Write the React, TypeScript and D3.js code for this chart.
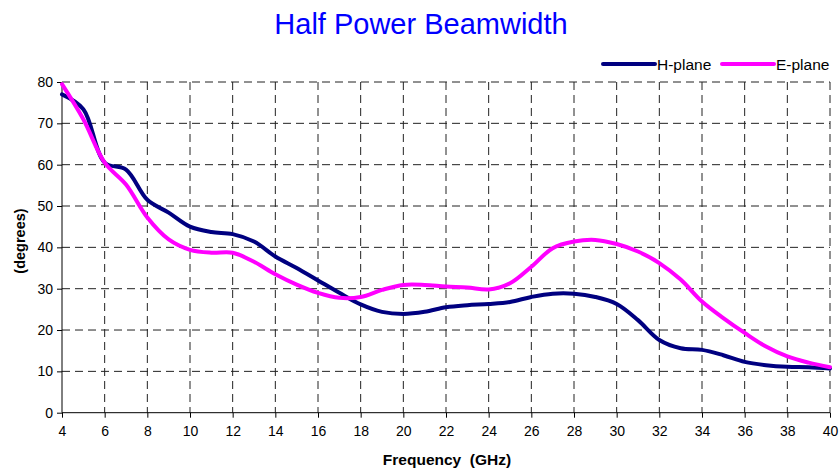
import { useRef, useEffect } from "react";
import * as d3 from "d3";

const WIDTH = 840;
const HEIGHT = 468;
const MARGIN = { top: 82, right: 10, bottom: 55, left: 62 };
const INNER_W = 830 - MARGIN.left;
const INNER_H = 412.7 - MARGIN.top;

const freqs = [4, 5, 6, 7, 8, 9, 10, 11, 12, 13, 14, 15, 16, 17, 18, 19, 20, 21, 22, 23, 24, 25, 26, 27, 28, 29, 30, 31, 32, 33, 34, 35, 36, 37, 38, 39, 40];
const hPlane = [77, 73.4, 60.5, 58.8, 51.5, 48.4, 45, 43.7, 43.2, 41.4, 37.8, 35, 32, 29, 26.2, 24.4, 23.9, 24.4, 25.5, 26, 26.3, 26.8, 28, 28.8, 28.8, 28, 26.3, 22.4, 17.6, 15.6, 15.2, 13.9, 12.3, 11.5, 11.1, 11, 10.7];
const ePlane = [79.5, 71, 60.5, 55.2, 47.2, 41.9, 39.4, 38.7, 38.7, 36.5, 33.5, 31, 29, 27.8, 28, 29.7, 30.9, 30.9, 30.5, 30.3, 29.8, 31.3, 35.3, 39.8, 41.4, 41.8, 40.8, 39, 36.2, 32.2, 26.9, 22.9, 19.3, 16, 13.6, 12.1, 11];
const xTicks = d3.range(4, 41, 2);
const yTicks = [0, 10, 20, 30, 40, 50, 60, 70, 80];
const series = [
  { name: "H-plane", values: hPlane, color: "#000080" },
  { name: "E-plane", values: ePlane, color: "#FF00FF" },
];

const FONT = "'Liberation Sans', Arial, sans-serif";

export default function App() {
  const svgRef = useRef<SVGSVGElement>(null);

  useEffect(() => {
    const svg = d3.select(svgRef.current);
    svg.selectAll("*").remove();

    const x = d3.scaleLinear().domain([4, 40]).range([0, INNER_W]);
    const y = d3.scaleLinear().domain([0, 80]).range([INNER_H, 0]);

    const g = svg.append("g").attr("transform", `translate(${MARGIN.left},${MARGIN.top})`);

    // Grid lines
    g.append("g")
      .selectAll("line")
      .data(yTicks.filter((t) => t > 0))
      .join("line")
      .attr("x1", 0)
      .attr("x2", INNER_W)
      .attr("y1", (d) => y(d))
      .attr("y2", (d) => y(d))
      .attr("stroke", "#222")
      .attr("stroke-dasharray", "8,5");

    g.append("g")
      .selectAll("line")
      .data(xTicks.filter((t) => t > 4))
      .join("line")
      .attr("x1", (d) => x(d))
      .attr("x2", (d) => x(d))
      .attr("y1", 0)
      .attr("y2", INNER_H)
      .attr("stroke", "#222")
      .attr("stroke-dasharray", "8,5");

    // Axes
    g.append("g")
      .attr("transform", `translate(0,${INNER_H})`)
      .call(d3.axisBottom(x).tickValues(xTicks).tickSize(5).tickPadding(8).tickFormat(d3.format("d")))
      .call((a) => a.select(".domain").attr("d", `M0,0H${INNER_W}`).attr("stroke", "#000"))
      .call((a) => a.selectAll("line").attr("stroke", "#000"))
      .call((a) => a.selectAll("text").attr("fill", "#000").attr("font-size", "14px").attr("font-family", FONT));

    g.append("g")
      .call(d3.axisLeft(y).tickValues(yTicks).tickSize(5).tickPadding(4))
      .call((a) => a.select(".domain").attr("d", `M0,0V${INNER_H}`).attr("stroke", "#000"))
      .call((a) => a.selectAll("line").attr("stroke", "#000"))
      .call((a) => a.selectAll("text").attr("fill", "#000").attr("font-size", "14px").attr("font-family", FONT));

    // Lines
    const line = d3
      .line<number>()
      .x((_, i) => x(freqs[i]))
      .y((d) => y(d))
      .curve(d3.curveCatmullRom.alpha(0.5));

    g.selectAll("path.series")
      .data(series)
      .join("path")
      .attr("class", "series")
      .attr("d", (d) => line(d.values))
      .attr("fill", "none")
      .attr("stroke", (d) => d.color)
      .attr("stroke-width", 4)
      .attr("stroke-linejoin", "round")
      .attr("stroke-linecap", "round");

    // Title
    svg.append("text")
      .attr("x", 421)
      .attr("y", 34)
      .attr("text-anchor", "middle")
      .attr("fill", "#0000FF")
      .attr("font-size", "29px")
      .attr("font-family", FONT)
      .text("Half Power Beamwidth");

    // Axis titles
    svg.append("text")
      .attr("x", 447)
      .attr("y", 465)
      .attr("text-anchor", "middle")
      .attr("font-size", "15.5px")
      .attr("font-weight", "bold")
      .attr("font-family", FONT)
      .attr("xml:space", "preserve")
      .text("Frequency  (GHz)");

    svg.append("text")
      .attr("transform", "translate(25,241) rotate(-90)")
      .attr("text-anchor", "middle")
      .attr("font-size", "14.5px")
      .attr("font-weight", "bold")
      .attr("font-family", FONT)
      .text("(degrees)");

    // Legend
    const legendX = [603, 722];
    const leg = svg.append("g");
    series.forEach((s, i) => {
      leg.append("line")
        .attr("x1", legendX[i])
        .attr("x2", legendX[i] + 52)
        .attr("y1", 64)
        .attr("y2", 64)
        .attr("stroke", s.color)
        .attr("stroke-width", 4)
        .attr("stroke-linecap", "round");
      leg.append("text")
        .attr("x", legendX[i] + 54)
        .attr("y", 70)
        .attr("font-size", "15.5px")
        .attr("font-family", FONT)
        .text(s.name);
    });
  }, []);

  return (
    <svg
      ref={svgRef}
      width={WIDTH}
      height={HEIGHT}
      viewBox={`0 0 ${WIDTH} ${HEIGHT}`}
      style={{ position: "absolute", left: 0, top: 0, background: "#fff" }}
    />
  );
}
